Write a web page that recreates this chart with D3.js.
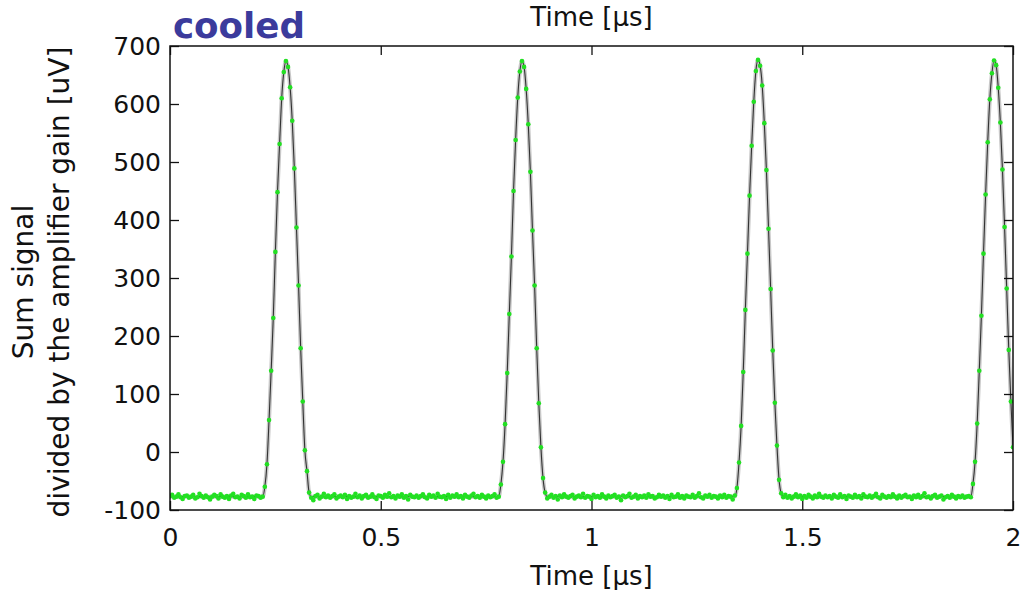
<!DOCTYPE html>
<html>
<head>
<meta charset="utf-8">
<script src="https://cdn.jsdelivr.net/npm/d3@7"></script>
<style>
  body { margin: 0; background: #fff; }
  text { font-family: "DejaVu Sans", sans-serif; }
</style>
</head>
<body>
<script>
// sampling interval of the scope trace [us]
var sampleStep = 0.005;

// baseline stretches between the pulses [uV]
var baseline0 = [-76,-74,-79,-77,-73,-78,-81,-76,-75,-79,-77,-74,-80,-78,-72,-76,-79,-75,-78,-82,
                 -77,-74,-76,-80,-73,-77,-79,-76,-81,-75,-72,-78,-77,-80,-74,-76,-79,-73,-78,-77,
                 -81,-75,-76,-79,-77];
var baseline1 = [-79,-83,-76,-74,-80,-77,-72,-78,-75,-79, -76,-73,-80,-77,-75,-78,-74,-81,-76,-79,
                 -77,-72,-78,-75,-80,-76,-74,-79,-77,-73, -78,-81,-75,-76,-79,-74,-77,-71,-78,-76,
                 -80,-75,-77,-73,-79,-76,-82,-74,-77,-78, -75,-79,-76,-73,-78,-80,-74,-77,-75,-79,
                 -72,-77,-78,-76,-81,-74,-79,-75,-77,-73, -78,-76,-80,-74,-77,-79,-75,-72,-78,-76,
                 -79,-74,-77,-80,-75,-78,-76,-73,-79,-77];
var baseline2 = [-80,-77,-74,-79,-76,-82,-75,-78,-73,-77, -79,-76,-74,-80,-77,-75,-78,-72,-79,-76,
                 -77,-81,-74,-78,-76,-79,-73,-77,-80,-75, -78,-76,-74,-79,-77,-83,-75,-78,-76,-72,
                 -79,-77,-74,-80,-76,-78,-75,-79,-73,-77, -76,-80,-78,-74,-77,-75,-79,-76,-81,-74,
                 -78,-77,-73,-79,-76,-80,-75,-77,-78,-74, -79,-76,-71,-78,-80,-75,-77,-74,-79,-76,
                 -77,-80,-75,-78,-74,-79,-76,-77,-82,-75];
var baseline3 = [-78,-74,-79,-76,-80,-77,-73,-78,-75,-81, -76,-79,-74,-77,-80,-75,-78,-72,-77,-79,
                 -75,-78,-76,-80,-74,-77,-79,-73,-78,-76, -81,-75,-77,-79,-74,-78,-76,-80,-73,-77,
                 -78,-75,-79,-76,-72,-78,-80,-74,-77,-79, -76,-78,-73,-77,-80,-75,-79,-76,-74,-78,
                 -77,-81,-75,-78,-74,-79,-76,-71,-78,-77, -80,-76,-74,-79,-77,-75,-82,-78,-76,-79,
                 -74,-77,-80,-76,-78,-75,-79,-77,-76,-78];

// the four pulses [uV]
var pulse1 = [-60,-21,55,140,231,345,448,531,610,655,674,664,629,571,489,387,287,179,87,3,-33,-70];
var pulse2 = [-56,-17,48,136,238,337,450,538,611,656,674,664,626,565,483,382,287,179,84,8,-45,-70];
var pulse3 = [-62,-18,45,138,245,342,442,528,604,657,676,666,632,567,486,385,281,175,85,11,-48,-71];
var pulse4 = [-55,-17,49,140,235,342,444,534,608,653,675,667,628,568,487,388,282,176,87,8];

// level of the fitted baseline
var fitBaseline = -77;

var xTicks = [0, 0.5, 1, 1.5, 2];
var yTicks = [-100, 0, 100, 200, 300, 400, 500, 600, 700];

var W = 1023, H = 590;
var mLeft = 170, mRight = 1013, mTop = 46, mBottom = 510;

var segments = [
  {vals: baseline0, pulse: false}, {vals: pulse1, pulse: true},
  {vals: baseline1, pulse: false}, {vals: pulse2, pulse: true},
  {vals: baseline2, pulse: false}, {vals: pulse3, pulse: true},
  {vals: baseline3, pulse: false}, {vals: pulse4, pulse: true}
];

var points = [];
var fit = [];
segments.forEach(function(s) {
  s.vals.forEach(function(v) {
    var t = points.length * sampleStep;
    points.push({t: t, v: v});
    fit.push({t: t, v: s.pulse ? v : fitBaseline});
  });
});

var svg = d3.select("body").append("svg")
  .attr("width", W).attr("height", H);

var x = d3.scaleLinear().domain([0, 2]).range([mLeft, mRight]);
var y = d3.scaleLinear().domain([-100, 700]).range([mBottom, mTop]);

svg.append("defs").append("clipPath").attr("id", "clip")
  .append("rect")
  .attr("x", mLeft).attr("y", mTop)
  .attr("width", mRight - mLeft).attr("height", mBottom - mTop);

var plot = svg.append("g").attr("clip-path", "url(#clip)");

var line = d3.line()
  .x(function(d) { return x(d.t); })
  .y(function(d) { return y(d.v); })
  .curve(d3.curveMonotoneX);

// grey halo + dark fit line
plot.append("path").datum(fit)
  .attr("d", line)
  .attr("fill", "none")
  .attr("stroke", "#c8c8c8")
  .attr("stroke-width", 4);
plot.append("path").datum(fit)
  .attr("d", line)
  .attr("fill", "none")
  .attr("stroke", "#333")
  .attr("stroke-width", 1.1);

plot.selectAll("circle")
  .data(points)
  .enter()
  .append("circle")
  .attr("cx", function(d) { return x(d.t); })
  .attr("cy", function(d) { return y(d.v); })
  .attr("r", 2.3)
  .attr("fill", "#22e022");

// axes, ticks pointing inward on all four sides
var fmtX = function(d) { return String(d); };
var fmtY = function(d) { return d < 0 ? "-" + Math.abs(d) : String(d); };

var gx = svg.append("g").attr("transform", "translate(0," + mBottom + ")")
  .call(d3.axisBottom(x).tickValues(xTicks).tickFormat(fmtX)
        .tickSizeInner(-9).tickSizeOuter(0).tickPadding(18));
var gy = svg.append("g").attr("transform", "translate(" + mLeft + ",0)")
  .call(d3.axisLeft(y).tickValues(yTicks).tickFormat(fmtY)
        .tickSizeInner(-9).tickSizeOuter(0).tickPadding(9));
var gt = svg.append("g").attr("transform", "translate(0," + mTop + ")")
  .call(d3.axisTop(x).tickValues(xTicks).tickFormat("")
        .tickSizeInner(-9).tickSizeOuter(0));
var gr = svg.append("g").attr("transform", "translate(" + mRight + ",0)")
  .call(d3.axisRight(y).tickValues(yTicks).tickFormat("")
        .tickSizeInner(-9).tickSizeOuter(0));

[gx, gy, gt, gr].forEach(function(g) {
  g.select(".domain").remove();
  g.selectAll(".tick line").attr("stroke", "#111").attr("stroke-width", 1.3);
  g.selectAll("text")
    .style("font-family", "'DejaVu Sans', sans-serif")
    .style("font-size", "25px")
    .attr("fill", "#111");
});

svg.append("rect")
  .attr("x", mLeft).attr("y", mTop)
  .attr("width", mRight - mLeft).attr("height", mBottom - mTop)
  .attr("fill", "none")
  .attr("stroke", "#111")
  .attr("stroke-width", 1.5);

// labels
svg.append("text")
  .attr("x", (mLeft + mRight) / 2).attr("y", 585)
  .attr("text-anchor", "middle")
  .style("font-size", "26px").attr("fill", "#111")
  .text("Time [µs]");
svg.append("text")
  .attr("x", (mLeft + mRight) / 2).attr("y", 26)
  .attr("text-anchor", "middle")
  .style("font-size", "26px").attr("fill", "#111")
  .text("Time [µs]");

var yl = svg.append("text")
  .attr("transform", "translate(0," + ((mTop + mBottom) / 2 + 4) + ") rotate(-90)")
  .attr("text-anchor", "middle")
  .style("font-size", "28px").attr("fill", "#111");
yl.append("tspan").attr("x", 0).attr("y", 33).text("Sum signal");
yl.append("tspan").attr("x", 0).attr("y", 69).text("divided by the amplifier gain [uV]");

svg.append("text")
  .attr("x", 173).attr("y", 38)
  .attr("textLength", 132)
  .attr("lengthAdjust", "spacingAndGlyphs")
  .style("font-size", "35px")
  .style("font-weight", "bold")
  .attr("fill", "#3b3b9c")
  .text("cooled");
</script>
</body>
</html>
